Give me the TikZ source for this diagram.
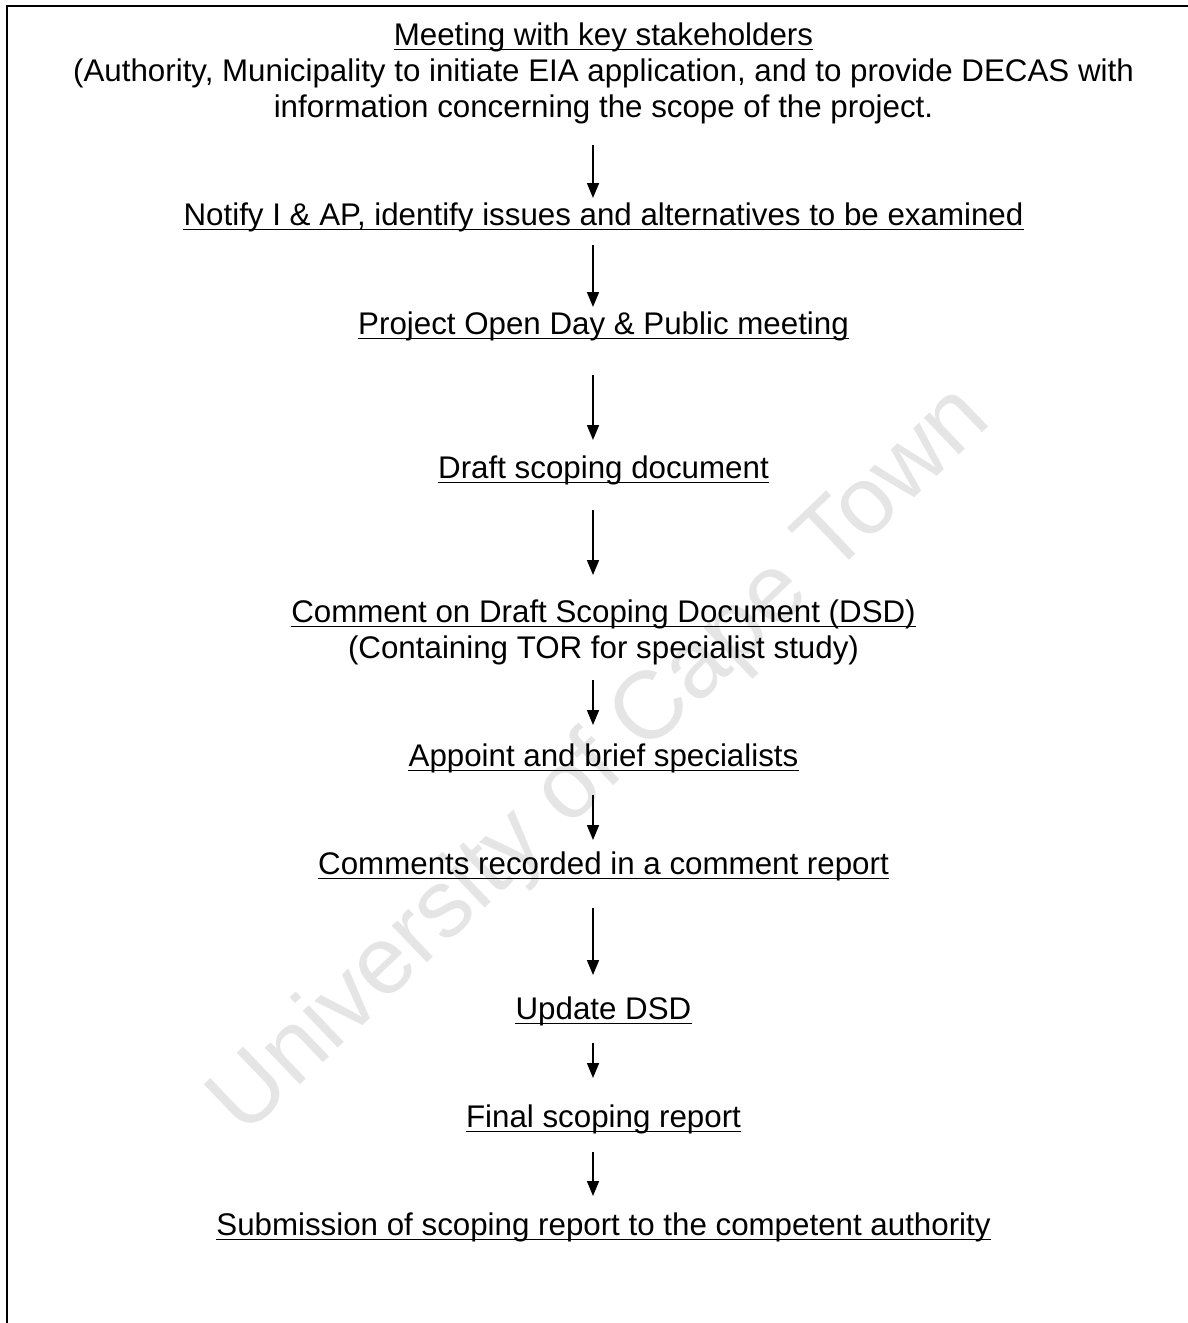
\documentclass[tikz,border=0pt]{standalone}
\usepackage{fontspec}
\setmainfont{Liberation Sans}
\usetikzlibrary{arrows.meta}
\definecolor{wm}{gray}{0.9}
\tikzset{
  txt/.style={anchor=base, inner sep=0pt, font=\fontsize{31.3}{36}\selectfont},
  uline/.style={line width=1.8pt},
  arr/.style={line width=1.6pt, -{Triangle[width=12pt,length=15pt]}},
  frame/.style={line width=1.8pt}
}
\begin{document}
\begin{tikzpicture}[x=1pt,y=-1pt]
\useasboundingbox (0,0) rectangle (1188,1323);
% watermark
\node[rotate=43.7, text=wm, inner sep=0pt, font=\fontsize{96}{110}\selectfont] (wmk) at (602,762) {University of Cape Town};
% frame
\draw[frame] (1188,6) -- (7,6) -- (7,1323);
% texts
\def\cx{603.5}
\node[txt] (t1) at (\cx,45) {Meeting with key stakeholders};
\node[txt] (t1b) at (\cx,81) {(Authority, Municipality to initiate EIA application, and to provide DECAS with};
\node[txt] (t1c) at (\cx,117) {information concerning the scope of the project.};
\node[txt] (t2) at (\cx,225) {Notify I \& AP, identify issues and alternatives to be examined};
\node[txt] (t3) at (\cx,334) {Project Open Day \& Public meeting};
\node[txt] (t4) at (\cx,478) {Draft scoping document};
\node[txt] (t5) at (\cx,622) {Comment on Draft Scoping Document (DSD)};
\node[txt] (t5b) at (\cx,658) {(Containing TOR for specialist study)};
\node[txt] (t6) at (\cx,766) {Appoint and brief specialists};
\node[txt] (t7) at (\cx,874) {Comments recorded in a comment report};
\node[txt] (t8) at (\cx,1019) {Update DSD};
\node[txt] (t9) at (\cx,1127) {Final scoping report};
\node[txt] (t10) at (\cx,1235) {Submission of scoping report to the competent authority};
% underlines
\foreach \n in {t1,t2,t3,t4,t5,t6,t7,t8,t9,t10}{
  \draw[uline] ([yshift=-4.5pt]\n.base west) -- ([yshift=-4.5pt]\n.base east);
}
% arrows
\coordinate (ax) at (593,0);
\draw[arr] ([yshift=-28pt]t1c.base -| ax) -- ([yshift=27pt]t2.base -| ax);
\draw[arr] ([yshift=-20pt]t2.base -| ax) -- ([yshift=27pt]t3.base -| ax);
\draw[arr] ([yshift=-41pt]t3.base -| ax) -- ([yshift=38pt]t4.base -| ax);
\draw[arr] ([yshift=-32pt]t4.base -| ax) -- ([yshift=47pt]t5.base -| ax);
\draw[arr] ([yshift=-22pt]t5b.base -| ax) -- ([yshift=41pt]t6.base -| ax);
\draw[arr] ([yshift=-29pt]t6.base -| ax) -- ([yshift=34pt]t7.base -| ax);
\draw[arr] ([yshift=-34pt]t7.base -| ax) -- ([yshift=44pt]t8.base -| ax);
\draw[arr] ([yshift=-24pt]t8.base -| ax) -- ([yshift=49pt]t9.base -| ax);
\draw[arr] ([yshift=-25pt]t9.base -| ax) -- ([yshift=39pt]t10.base -| ax);
\end{tikzpicture}
\end{document}
